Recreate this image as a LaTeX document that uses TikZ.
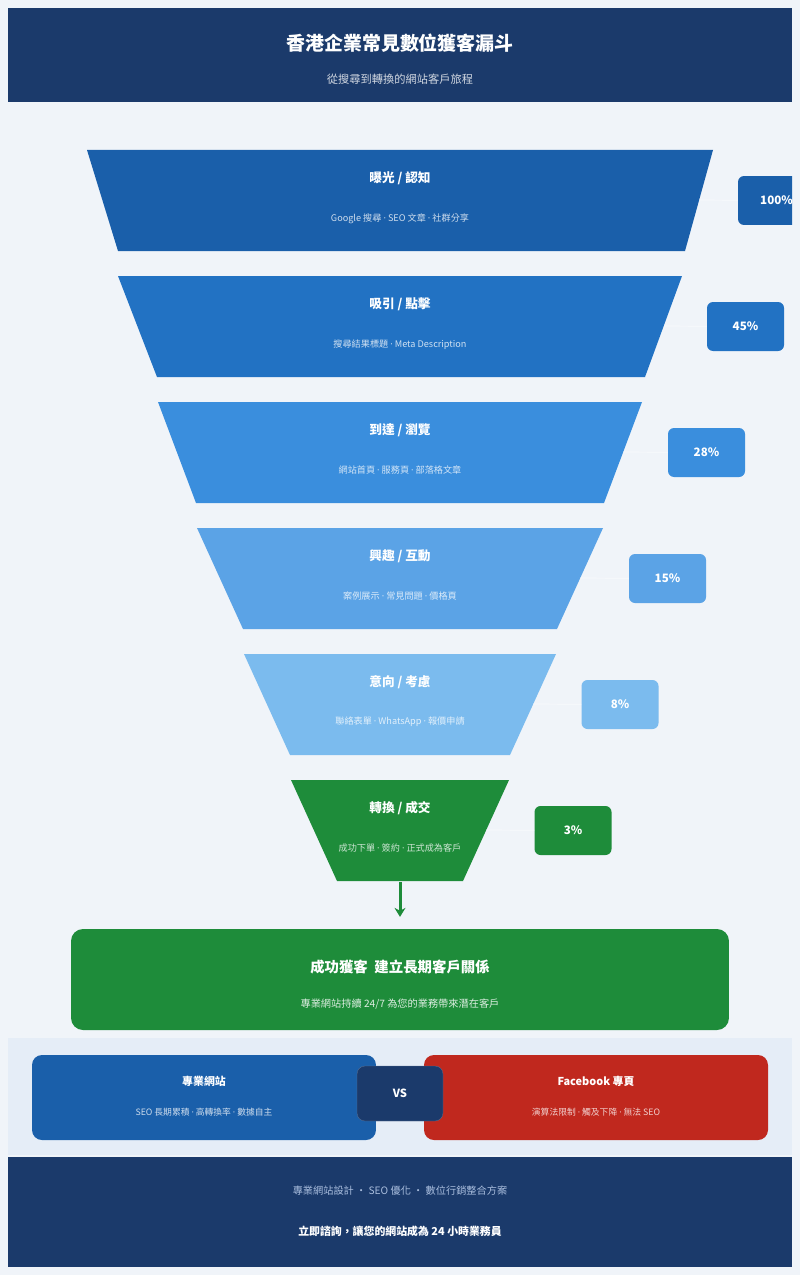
\documentclass[tikz,border=0pt]{standalone}
\usepackage{fontspec}
\setmainfont{Noto Sans CJK TC}
\newfontfamily\dotfont{Noto Sans}
\usepackage{tikz}
\usetikzlibrary{positioning,arrows.meta}
\definecolor{pagebg}{RGB}{240,244,249}
\definecolor{navy}{RGB}{27,58,107}
\definecolor{bandbg}{RGB}{229,237,247}
\definecolor{lvlA}{RGB}{26,95,170}
\definecolor{lvlB}{RGB}{34,114,195}
\definecolor{lvlC}{RGB}{58,142,221}
\definecolor{lvlD}{RGB}{91,163,230}
\definecolor{lvlE}{RGB}{123,187,238}
\definecolor{wingreen}{RGB}{30,140,58}
\definecolor{fbred}{RGB}{192,40,30}
\definecolor{footgray}{RGB}{170,190,222}
\newcommand{\md}{ {\dotfont ·} }

\begin{document}
\begin{tikzpicture}[x=0.05cm, y=-0.05cm,
  ttl/.style={text=white, font=\fontsize{18}{22}\selectfont\bfseries},
  sub/.style={text=white, text opacity=0.78, font=\fontsize{13}{16}\selectfont},
  pct/.style={rounded corners=0.3cm, minimum width=3.85cm, minimum height=2.45cm,
    inner sep=0pt, text=white, font=\fontsize{16.5}{20}\selectfont\bfseries},
  link/.style={draw=white, line width=1pt, opacity=0.6},
  card/.style={rounded corners=0.5cm, minimum width=17.2cm, minimum height=4.25cm},
]
  \useasboundingbox (0,0) rectangle (800,1275);
  \fill[pagebg] (0,0) rectangle (800,1275);

  % Header
  \fill[navy] (8,8) rectangle (792,102);
  \node[text=white, font=\fontsize{27}{31}\selectfont\bfseries] (title) at (400,43)
    {香港企業常見數位獲客漏斗};
  \node[text=white, text opacity=0.8, font=\fontsize{16}{20}\selectfont] (subtitle) at (400,79)
    {從搜尋到轉換的網站客戶旅程};

  \begin{scope}
  \clip (0,0) rectangle (792,1275);
  % Funnel levels
  \fill[lvlA] (87,150) -- (713,150) -- (685,251) -- (118,251) -- cycle;
  \node[ttl] (t1) at (400,178) {曝光 / 認知};
  \node[sub] (s1) at (400,219) {Google 搜尋\md SEO 文章\md 社群分享};
  \coordinate (e1) at (699,200);
  \node[pct, fill=lvlA] (p1) at (776.5,200.5) {100\%};
  \draw[link] (e1) -- (p1);

  \fill[lvlB] (118,276) -- (682,276) -- (645,377) -- (157,377) -- cycle;
  \node[ttl] (t2) at (400,304) {吸引 / 點擊};
  \node[sub] (s2) at (400,345) {搜尋結果標題\md Meta Description};
  \coordinate (e2) at (664,326);
  \node[pct, fill=lvlB] (p2) at (745.5,326.5) {45\%};
  \draw[link] (e2) -- (p2);

  \fill[lvlC] (158,402) -- (642,402) -- (604,503) -- (196,503) -- cycle;
  \node[ttl] (t3) at (400,430) {到達 / 瀏覽};
  \node[sub] (s3) at (400,470) {網站首頁\md 服務頁\md 部落格文章};
  \coordinate (e3) at (623,452);
  \node[pct, fill=lvlC] (p3) at (706.5,452.5) {28\%};
  \draw[link] (e3) -- (p3);

  \fill[lvlD] (197,528) -- (603,528) -- (557,629) -- (243,629) -- cycle;
  \node[ttl] (t4) at (400,556) {興趣 / 互動};
  \node[sub] (s4) at (400,596) {案例展示\md 常見問題\md 價格頁};
  \coordinate (e4) at (580,578);
  \node[pct, fill=lvlD] (p4) at (667.5,578.5) {15\%};
  \draw[link] (e4) -- (p4);

  \fill[lvlE] (244,654) -- (556,654) -- (510,755) -- (290,755) -- cycle;
  \node[ttl] (t5) at (400,682) {意向 / 考慮};
  \node[sub] (s5) at (400,722) {聯絡表單\md WhatsApp\md 報價申請};
  \coordinate (e5) at (533,704);
  \node[pct, fill=lvlE] (p5) at (620,704.5) {8\%};
  \draw[link] (e5) -- (p5);

  \fill[wingreen] (291,780) -- (509,780) -- (463,881) -- (337,881) -- cycle;
  \node[ttl] (t6) at (400,808) {轉換 / 成交};
  \node[sub] (s6) at (400,848) {成功下單\md 簽約\md 正式成為客戶};
  \coordinate (e6) at (486,830);
  \node[pct, fill=wingreen] (p6) at (573,830.5) {3\%};
  \draw[link] (e6) -- (p6);
  \end{scope}

  % Result card
  \coordinate (f6) at (400,882);
  \node[card, fill=wingreen, minimum width=32.9cm, minimum height=5.05cm,
    rounded corners=0.6cm] (win) at (400,979.5) {};
  \draw[wingreen, line width=0.15cm, -{Stealth[length=0.45cm, width=0.55cm]},
    shorten >=0.6cm] (f6) -- (win.north);
  \node[text=white, font=\fontsize{20.5}{24}\selectfont\bfseries] (wintitle) at (400,967)
    {成功獲客\ \ 建立長期客戶關係};
  \node[text=white, text opacity=0.85, font=\fontsize{14.5}{18}\selectfont] (winsub) at (400,1004)
    {專業網站持續 24/7 為您的業務帶來潛在客戶};

  % Comparison
  \fill[bandbg] (8,1038) rectangle (792,1155);
  \node[card, fill=lvlA] (site) at (204,1097.5) {};
  \node[card, fill=fbred] (fb) at (596,1097.5) {};
  \node[text=white, font=\fontsize{15.5}{19}\selectfont\bfseries] (sitetitle) at (204,1081) {專業網站};
  \node[sub, font=\fontsize{12.5}{15}\selectfont] (sitesub) at (204,1112)
    {SEO 長期累積\md 高轉換率\md 數據自主};
  \node[text=white, font=\fontsize{15.5}{19}\selectfont\bfseries] (fbtitle) at (596,1081) {Facebook 專頁};
  \node[sub, font=\fontsize{12.5}{15}\selectfont] (fbsub) at (596,1112)
    {演算法限制\md 觸及下降\md 無法 SEO};
  \node[fill=navy, draw=navy!70!white, rounded corners=0.4cm, minimum width=4.3cm,
    minimum height=2.75cm, text=white, font=\fontsize{16}{19}\selectfont\bfseries] (vs)
    at (400,1093.5) {VS};

  % Footer
  \fill[navy] (8,1157) rectangle (792,1267);
  \node[text=footgray, font=\fontsize{14.5}{18}\selectfont] (services) at (400,1191)
    {專業網站設計 ・ SEO 優化 ・ 數位行銷整合方案};
  \node[text=white, font=\fontsize{15.5}{19}\selectfont\bfseries] (cta) at (400,1231)
    {立即諮詢，讓您的網站成為 24 小時業務員};
\end{tikzpicture}
\end{document}
